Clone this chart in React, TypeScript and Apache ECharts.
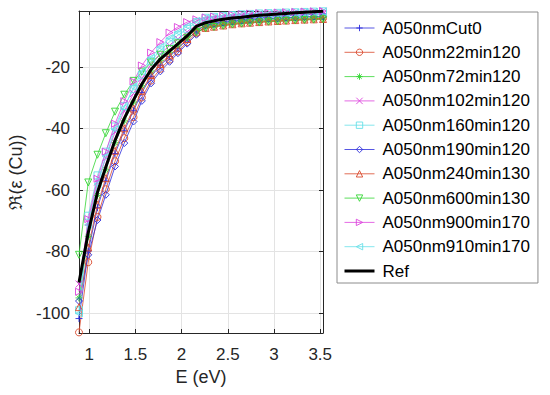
import React, { useEffect, useRef } from "react";
import * as echarts from "echarts";

const E = [0.89, 0.99, 1.09, 1.18, 1.28, 1.38, 1.48, 1.57, 1.67, 1.77, 1.87, 1.96, 2.06, 2.16, 2.26, 2.35, 2.45, 2.55, 2.65, 2.74, 2.84, 2.94, 3.04, 3.13, 3.23, 3.33, 3.43, 3.53];

const refVals = [-90, -73.8, -60.7, -52.5, -43.8, -36.7, -30.7, -25.5, -20.8, -17.4, -14.8, -12.5, -9.9, -6.8, -5.6, -5.0, -4.5, -4.1, -3.8, -3.5, -3.2, -3.0, -2.8, -2.6, -2.4, -2.2, -2.05, -1.9];

const cut0 = [-101.7, -79.8, -65.7, -57.0, -48.1, -40.7, -34.2, -28.3, -23.1, -19.4, -16.6, -14.0, -11.2, -8.3, -6.4, -5.8, -5.3, -4.9, -4.6, -4.3, -4.0, -3.8, -3.6, -3.4, -3.2, -3.0, -2.85, -2.7];
const m22 = [-106.2, -83.4, -68.7, -59.7, -50.6, -43.1, -36.3, -29.9, -24.4, -20.6, -17.6, -14.9, -11.9, -9.0, -7.1, -6.7, -6.3, -5.9, -5.6, -5.4, -5.2, -5.0, -4.85, -4.7, -4.55, -4.4, -4.3, -4.2];
const m72 = [-95.0, -75.0, -61.7, -53.4, -44.6, -37.5, -31.4, -26.1, -21.3, -17.8, -15.2, -12.8, -10.2, -7.6, -6.8, -6.4, -6.0, -5.6, -5.3, -5.1, -4.9, -4.7, -4.55, -4.4, -4.25, -4.1, -4.0, -3.9];
const m102 = [-90.5, -70.5, -57.4, -49.5, -41.1, -34.3, -28.6, -23.7, -19.2, -15.8, -13.0, -10.9, -8.6, -6.3, -4.75, -4.3, -3.9, -3.55, -3.3, -3.1, -2.85, -2.7, -2.55, -2.4, -2.25, -2.1, -2.0, -1.85];
const m160 = [-99.0, -68.3, -55.2, -47.5, -39.3, -32.7, -27.2, -22.5, -18.0, -14.6, -11.8, -9.7, -7.6, -5.4, -4.0, -3.7, -3.4, -3.1, -2.9, -2.75, -2.6, -2.5, -2.4, -2.3, -2.2, -2.1, -2.0, -1.9];
const m190 = [-96.0, -81.0, -69.7, -61.5, -52.3, -44.7, -37.7, -31.0, -25.3, -21.4, -18.3, -15.5, -12.4, -9.5, -6.4, -6.0, -5.6, -5.2, -4.9, -4.7, -4.5, -4.3, -4.15, -4.0, -3.85, -3.7, -3.6, -3.5];
const m240 = [-98.0, -78.6, -64.7, -56.1, -47.2, -39.9, -33.5, -27.7, -22.6, -19.0, -16.2, -13.7, -10.9, -8.5, -7.3, -6.9, -6.5, -6.1, -5.8, -5.6, -5.4, -5.2, -5.05, -4.9, -4.75, -4.6, -4.5, -4.4];
const m600 = [-81.0, -57.5, -48.5, -41.5, -34.5, -29.0, -24.5, -21.5, -18.5, -16.0, -14.2, -12.3, -10.5, -8.8, -7.4, -7.0, -6.6, -6.2, -5.9, -5.7, -5.5, -5.3, -5.15, -5.0, -4.85, -4.7, -4.6, -4.5];
const m900 = [-93.0, -69.4, -56.3, -47.5, -38.4, -31.1, -24.7, -19.5, -15.3, -11.9, -8.8, -7.0, -5.4, -4.5, -3.9, -3.6, -3.3, -3.0, -2.8, -2.65, -2.5, -2.4, -2.3, -2.2, -2.1, -2.0, -1.9, -1.8];
const m910 = [-100.0, -71.2, -58.0, -49.0, -40.2, -33.2, -26.5, -21.5, -17.0, -13.5, -10.6, -8.7, -6.7, -5.0, -4.15, -3.85, -3.55, -3.25, -3.05, -2.9, -2.75, -2.65, -2.55, -2.45, -2.35, -2.25, -2.15, -2.05];

const names = ["A050nmCut0", "A050nm22min120", "A050nm72min120", "A050nm102min120", "A050nm160min120", "A050nm190min120", "A050nm240min130", "A050nm600min130", "A050nm900min170", "A050nm910min170"];
const values = [cut0, m22, m72, m102, m160, m190, m240, m600, m900, m910];

const BLUE = "#2b2bdc";
const RED = "#d9482b";
const GREEN = "#33d633";
const MAG = "#dd44dd";
const CYAN = "#66e0e8";
const colors = [BLUE, RED, GREEN, MAG, CYAN, BLUE, RED, GREEN, MAG, CYAN];
const symbols = [
  "path://M5,0L5,10M0,5L10,5",
  "circle",
  "path://M5,0L5,10M0,5L10,5M1.5,1.5L8.5,8.5M1.5,8.5L8.5,1.5",
  "path://M0,0L10,10M0,10L10,0",
  "rect",
  "diamond",
  "path://M5,0L10,10L0,10Z",
  "path://M0,0L10,0L5,10Z",
  "path://M0,0L10,5L0,10Z",
  "path://M10,0L0,5L10,10Z",
];

const FONT = "'Liberation Sans', Arial, Helvetica, sans-serif";
const AX = "#262626";
const CLEAR = "rgba(255,255,255,0)";

export default function App() {
  const ref = useRef<HTMLDivElement>(null);
  useEffect(() => {
    if (!ref.current) return;
    const chart = echarts.init(ref.current, undefined, { renderer: "svg" });
    const xFmt = (v: number) => (Math.abs(v * 2 - Math.round(v * 2)) < 1e-6 ? String(Math.round(v * 2) / 2) : "");
    const yFmt = (v: number) => (Math.abs(v / 20 - Math.round(v / 20)) < 1e-6 ? String(Math.round(v)) : "");
    const common = { min: 0.89, max: 3.53, splitNumber: 5 };
    const ycommon = { min: -106.4, max: -1.8, splitNumber: 5 };
    const series: any[] = names.map((n, i) => ({
      name: n,
      type: "line",
      data: E.map((x, j) => [x, values[i][j]]),
      symbol: symbols[i],
      symbolSize: 7,
      showSymbol: true,
      lineStyle: { color: colors[i], width: 0.8 },
      itemStyle: { color: CLEAR, borderColor: colors[i], borderWidth: 0.9 },
      emphasis: { disabled: true },
      z: 2,
    }));
    series.push({
      name: "Ref",
      type: "line",
      data: E.map((x, j) => [x, refVals[j]]),
      symbol: "none",
      lineStyle: { color: "#000", width: 3 },
      itemStyle: { color: "#000" },
      emphasis: { disabled: true },
      z: 3,
    });
    const legendData: any[] = [
      ...names.map((n, i) => ({
        name: n,
        itemStyle: { color: CLEAR, borderColor: colors[i], borderWidth: 0.9 },
        lineStyle: { color: colors[i], width: 0.8 },
      })),
      { name: "Ref", itemStyle: { color: CLEAR, borderWidth: 0, opacity: 0 }, lineStyle: { color: "#000", width: 3 } },
    ];
    chart.setOption({
      animation: false,
      grid: { left: 79, top: 11, width: 244, height: 322, containLabel: false },
      legend: {
        orient: "vertical",
        left: 337,
        top: 12,
        itemWidth: 30,
        itemHeight: 8,
        itemGap: 7.3,
        padding: [7.5, 8, 3.5, 6],
        borderColor: "#8c8c8c",
        borderWidth: 1,
        backgroundColor: "#fff",
        textStyle: { fontFamily: FONT, fontSize: 17, color: "#000", padding: [0, 0, 0, 3] },
        data: legendData,
      },
      xAxis: [
        {
          type: "value",
          ...common,
          name: "E (eV)",
          nameLocation: "middle",
          nameGap: 33,
          nameTextStyle: { fontFamily: FONT, fontSize: 18, color: AX },
          axisLine: { show: true, lineStyle: { color: AX, width: 1 } },
          axisTick: { show: true, inside: true, length: 4, lineStyle: { color: AX } },
          axisLabel: { formatter: xFmt, fontFamily: FONT, fontSize: 17, color: AX, margin: 13 },
          splitLine: { show: true, lineStyle: { color: "#e3e3e3", width: 1 } },
        },
        {
          type: "value",
          ...common,
          position: "top",
          axisLine: { show: true, lineStyle: { color: AX, width: 1 } },
          axisTick: { show: true, inside: true, length: 4, lineStyle: { color: AX } },
          axisLabel: { show: false },
          splitLine: { show: false },
        },
      ],
      yAxis: [
        {
          type: "value",
          ...ycommon,
          name: "ℜ(ε (Cu))",
          nameLocation: "middle",
          nameGap: 54,
          nameTextStyle: { fontFamily: FONT, fontSize: 18, color: AX },
          axisLine: { show: true, lineStyle: { color: AX, width: 1 } },
          axisTick: { show: true, inside: true, length: 4, lineStyle: { color: AX } },
          axisLabel: { formatter: yFmt, fontFamily: FONT, fontSize: 17, color: AX, margin: 9 },
          splitLine: { show: true, lineStyle: { color: "#e3e3e3", width: 1 } },
        },
        {
          type: "value",
          ...ycommon,
          position: "right",
          axisLine: { show: true, lineStyle: { color: AX, width: 1 } },
          axisTick: { show: true, inside: true, length: 4, lineStyle: { color: AX } },
          axisLabel: { show: false },
          splitLine: { show: false },
        },
      ],
      series,
    });
    return () => chart.dispose();
  }, []);
  return <div ref={ref} style={{ position: "absolute", left: 0, top: 0, width: 550, height: 395, background: "#fff" }} />;
}
